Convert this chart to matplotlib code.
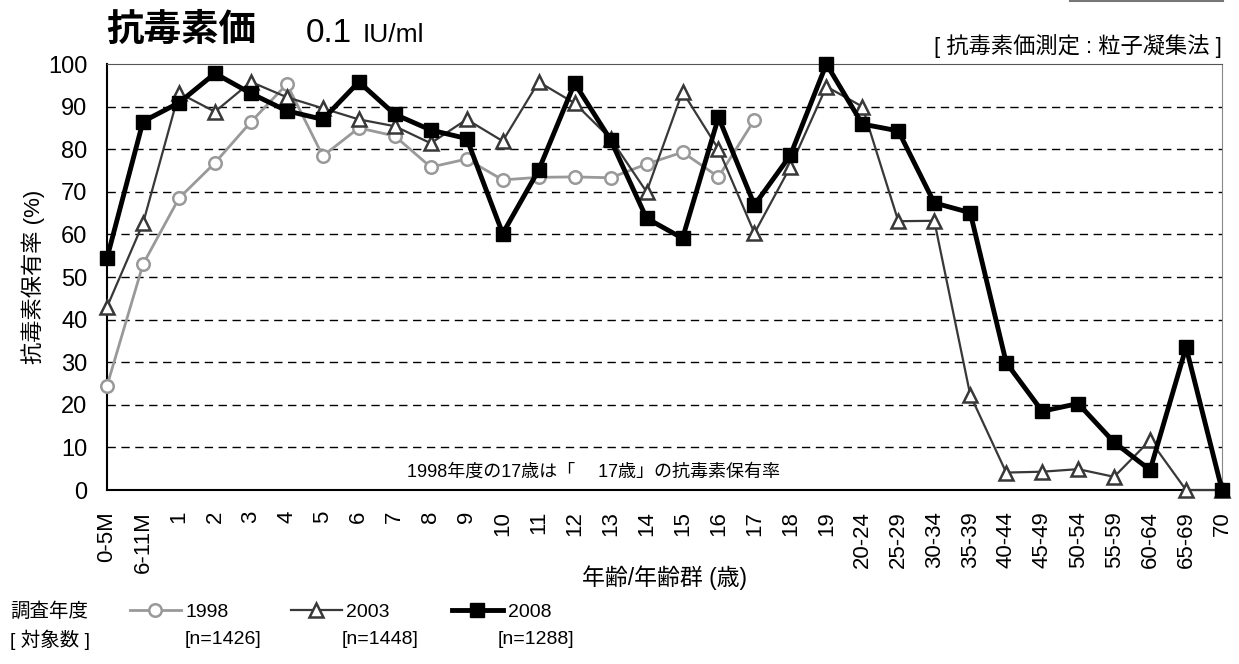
import numpy as np
import matplotlib
matplotlib.use("Agg")
import matplotlib.pyplot as plt

plt.rcParams['font.family'] = ['Liberation Sans', 'Noto Sans CJK JP', 'DejaVu Sans']

# age groups
ages = ['0-5M', '6-11M', '1', '2', '3', '4', '5', '6', '7', '8', '9', '10',
        '11', '12', '13', '14', '15', '16', '17', '18', '19',
        '20-24', '25-29', '30-34', '35-39', '40-44', '45-49', '50-54',
        '55-59', '60-64', '65-69', '70']

# seropositive rate (%) by survey year
rate_1998 = [24.5, 53.0, 68.5, 76.8, 86.4, 95.3, 78.4, 85.0, 83.1, 75.8, 77.7,
             72.8, 73.4, 73.5, 73.3, 76.5, 79.3, 73.5, 86.9]
rate_2003 = [43.0, 62.6, 93.2, 88.8, 95.8, 92.2, 89.6, 87.0, 85.4, 81.4, 87.0,
             81.9, 95.8, 90.8, 82.5, 70.0, 93.5, 80.0, 60.3, 75.9, 94.7,
             90.0, 63.1, 63.2, 22.3, 4.1, 4.3, 4.9, 3.1, 11.7, 0.0, 0.0]
rate_2008 = [54.5, 86.5, 90.9, 97.8, 93.1, 89.0, 87.0, 95.8, 88.2, 84.5, 82.5,
             60.2, 75.1, 95.5, 82.2, 63.8, 59.1, 87.5, 66.9, 78.6, 100.0,
             85.9, 84.3, 67.4, 65.1, 29.9, 18.5, 20.3, 11.2, 4.7, 33.5, 0.0]
years = ['1998', '2003', '2008']
n_labels = ['[n=1426]', '[n=1448]', '[n=1288]']

fig = plt.figure(figsize=(12.39, 6.64), dpi=100)
ax = fig.add_axes([0.0864, 0.262, 0.8999, 0.6416])

x = np.arange(len(ages))
l1, = ax.plot(x[:len(rate_1998)], rate_1998, color='#999999', lw=2,
              marker='o', ms=9, mfc='white', mec='#999999', mew=1.8,
              clip_on=False, zorder=3)
l2, = ax.plot(x, rate_2003, color='#383838', lw=1.6,
              marker='^', ms=10, mfc='white', mec='#383838', mew=1.8,
              clip_on=False, zorder=4)
l3, = ax.plot(x, rate_2008, color='black', lw=3.5,
              marker='s', ms=10, mfc='black', mec='black',
              clip_on=False, zorder=5)

ax.set_xlim(0, len(ages) - 1)
ax.set_ylim(0, 100)
ax.set_yticks(range(0, 101, 10))
ax.set_xticks(x)
ax.set_xticklabels(ages, rotation=90, fontsize=16)
ax.tick_params(axis='y', labelsize=17, length=0, pad=14)
ax.tick_params(axis='x', length=0, pad=15)
for yv in range(10, 100, 10):
    ax.axhline(yv, color='black', lw=1, ls=(0, (6, 4)), zorder=1)
ax.spines['left'].set_linewidth(1.5)
ax.spines['bottom'].set_linewidth(1.5)
ax.spines['top'].set_color('#555555')
ax.spines['right'].set_color('#888888')

ax.set_ylabel('抗毒素保有率 (%)', fontsize=16)
ax.yaxis.set_label_coords(-0.056, 0.5)
ax.set_xlabel('年齢/年齢群 (歳)', fontsize=16.5)
ax.xaxis.set_label_coords(0.5, -0.176)

ax.text(0.436, 0.022, '1998年度の17歳は「　 17歳」の抗毒素保有率',
        transform=ax.transAxes, ha='center', va='bottom', fontsize=13)

# title
fig.text(0.086, 0.926, '抗毒素価', fontsize=27, fontweight='bold', va='bottom')
fig.text(0.247, 0.937, '0.1', fontsize=24, va='baseline')
fig.text(0.293, 0.937, 'IU/ml', fontsize=19, va='baseline')
fig.text(0.9863, 0.92, '[ 抗毒素価測定 : 粒子凝集法 ]', fontsize=16,
         ha='right', va='baseline')
fig.add_artist(plt.Line2D([0.864, 0.987], [0.998, 0.998], color='#777777', lw=1.5))

# legend
fig.legend([l1, l2, l3], years, loc='center left',
           bbox_to_anchor=(0.105, 1 - 612 / 664), ncol=3, frameon=False,
           fontsize=14, handlelength=2.6, handletextpad=0.25,
           columnspacing=3.2, borderaxespad=0, borderpad=0)
fig.text(0.008, 1 - 612 / 664, '調査年度', fontsize=14, va='center')
fig.text(0.008, 1 - 640 / 664, '[ 対象数 ]', fontsize=14, va='center')
for xp, lab in zip([0.149, 0.276, 0.402], n_labels):
    fig.text(xp, 1 - 640 / 664, lab, fontsize=14, va='center')

fig.savefig('out.png', dpi=100)
